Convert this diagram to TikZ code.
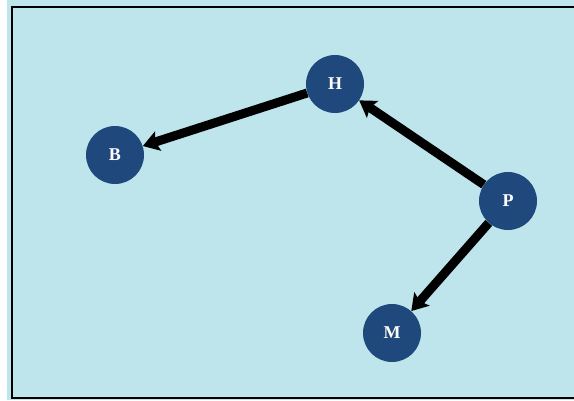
\documentclass[tikz,border=0pt]{standalone}
\usepackage{fontspec}
\setmainfont{Liberation Serif}
\usetikzlibrary{arrows.meta}

\definecolor{bgblue}{RGB}{190,228,236}
\definecolor{nodeblue}{RGB}{31,73,125}

\tikzset{
  person/.style={circle, fill=nodeblue, text=white, minimum size=58pt, inner sep=0pt,
    font=\fontsize{18}{18}\selectfont\bfseries},
  link/.style={line width=9pt, -{Stealth[length=16pt,width=20pt,inset=3pt]}}
}

\begin{document}
\begin{tikzpicture}[x=1pt,y=-1pt]
    \useasboundingbox (0,0) rectangle (574,400);
    \fill[bgblue] (7,0) rectangle (574,400);
    \draw[line width=2.5pt] (12,5.5) -- (12,398) -- (574,398);
    \draw[line width=2.5pt] (12,7) -- (574,7);
    % the four people
    \node[person] (H) at (335,84) {H};
    \node[person] (B) at (115,155) {B};
    \node[person] (P) at (508,201) {P};
    \node[person] (M) at (392,333) {M};
    % who points to whom
    \draw[link] (H) -- (B);
    \draw[link] (P) -- (H);
    \draw[link] (P) -- (M);
  \end{tikzpicture}
\end{document}
